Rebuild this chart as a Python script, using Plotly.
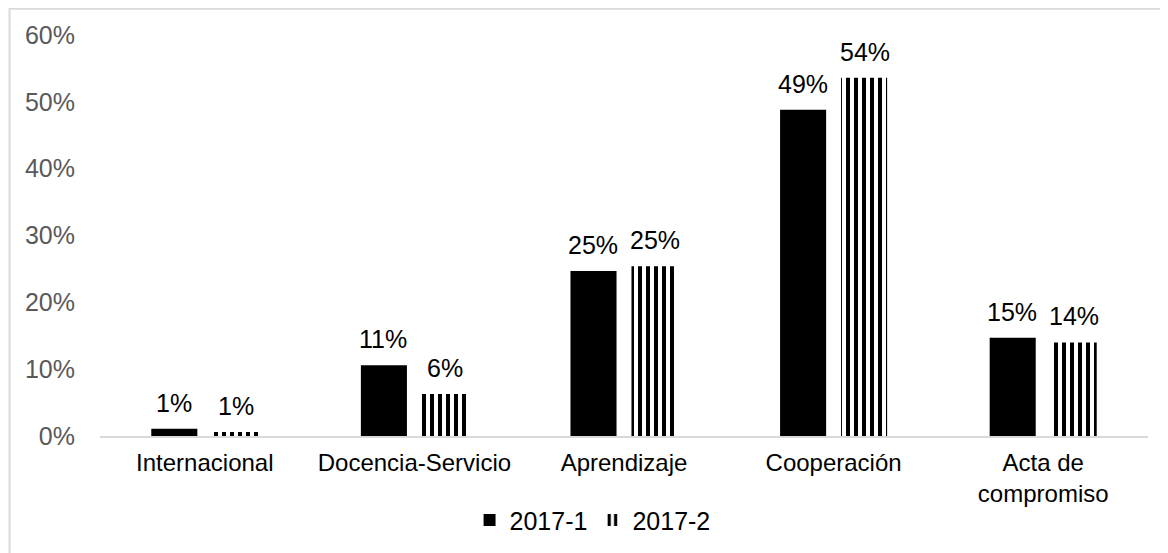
import plotly.graph_objects as go

categories = ["Internacional", "Docencia-Servicio", "Aprendizaje", "Cooperación", "Acta de<br>compromiso"]
series_names = ["2017-1", "2017-2"]
values_2017_1 = [0.011, 0.106, 0.247, 0.488, 0.147]
values_2017_2 = [0.006, 0.063, 0.254, 0.536, 0.140]
y_ticks = [0, 0.1, 0.2, 0.3, 0.4, 0.5, 0.6]
y_tick_labels = ["0%", "10%", "20%", "30%", "40%", "50%", "60%"]

FONT = "Liberation Sans, Arial, sans-serif"
FS = 24
FS_LBL = 25

fig = go.Figure()
fig.add_trace(go.Bar(
    name=series_names[0], x=categories, y=values_2017_1,
    marker=dict(color="black", line=dict(width=0)),
))
fig.add_trace(go.Bar(
    name=series_names[1], x=categories, y=values_2017_2,
    marker=dict(color="white", line=dict(width=0),
                pattern=dict(shape="|", fgcolor="black", bgcolor="white", fgopacity=1,
                             size=8, solidity=0.5, fillmode="overlay")),
))

# data labels placed above each bar
annotations = []
for vals, dx in ((values_2017_1, -31), (values_2017_2, 31)):
    for cat, v in zip(categories, vals):
        annotations.append(dict(
            x=cat, y=v, xref="x", yref="y", xshift=dx, yshift=10,
            text=f"{round(v * 100):d}%", showarrow=False,
            yanchor="bottom", xanchor="center",
            font=dict(family=FONT, size=FS_LBL, color="black"),
        ))

# page body has an 8px default margin; the figure is sized to fit the window
fig.update_layout(
    width=1160, height=545,
    margin=dict(l=92, r=20, t=27, b=117, autoexpand=False),
    paper_bgcolor="white", plot_bgcolor="white",
    barmode="group", bargap=0.418, bargroupgap=0.245,
    font=dict(family=FONT, size=FS, color="black"),
    showlegend=True,
    legend=dict(orientation="h", x=0.47, xanchor="center", y=-0.21, yanchor="middle",
                font=dict(family=FONT, size=FS_LBL, color="black"),
                itemwidth=30, tracegroupgap=0),
    xaxis=dict(showgrid=False, showline=True, linecolor="#d9d9d9", linewidth=2,
               ticks="", automargin=False, ticklabelstandoff=4,
               tickfont=dict(family=FONT, size=FS, color="black")),
    yaxis=dict(range=[0, 0.6], tickvals=y_ticks, ticktext=y_tick_labels,
               showgrid=False, zeroline=False, showline=False, ticks="",
               ticklabelstandoff=24, automargin=False,
               tickfont=dict(family=FONT, size=FS_LBL, color="#595959")),
    annotations=annotations,
    shapes=[dict(type="rect", xref="paper", yref="paper",
                 x0=-0.0863, x1=1.2, y0=-0.5, y1=1.0657,
                 line=dict(color="#d9d9d9", width=2), fillcolor="rgba(0,0,0,0)",
                 layer="below")],
)

fig.write_html("out.html")
